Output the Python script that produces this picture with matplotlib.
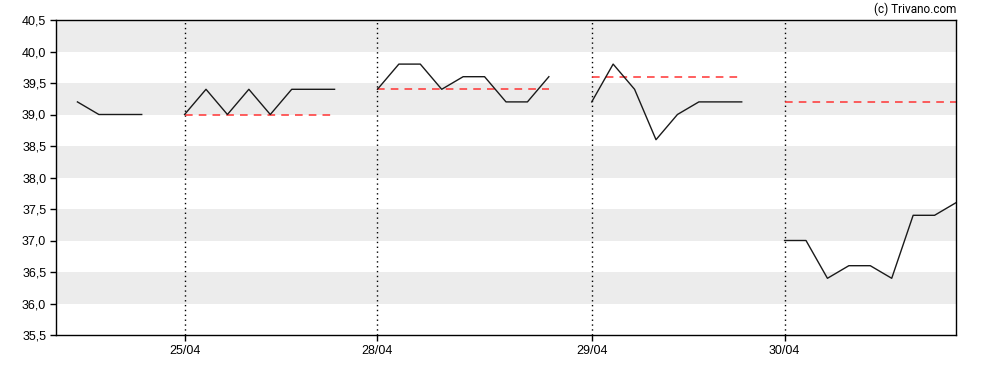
import numpy as np
import matplotlib.pyplot as plt

# intraday quotes per trading day (first day only partially visible)
day_labels = ['24/04', '25/04', '28/04', '29/04', '30/04']
day_start = [1, 6, 15, 25, 34]
day_values = [
    [39.2, 39.0, 39.0, 39.0],
    [39.0, 39.4, 39.0, 39.4, 39.0, 39.4, 39.4, 39.4],
    [39.4, 39.8, 39.8, 39.4, 39.6, 39.6, 39.2, 39.2, 39.6],
    [39.2, 39.8, 39.4, 38.6, 39.0, 39.2, 39.2, 39.2],
    [37.0, 37.0, 36.4, 36.6, 36.6, 36.4, 37.4, 37.4, 37.6],
]
# previous close shown as red dashed reference per day
prev_close = [None, 39.0, 39.4, 39.6, 39.2]

fig = plt.figure(figsize=(9.88, 3.70), dpi=100)
ax = fig.add_axes([56 / 988, 35 / 370, 900 / 988, 315 / 370])

ymin, ymax = 35.5, 40.5
for lo in np.arange(36.0, 40.5, 1.0):
    ax.axhspan(lo, lo + 0.5, color='#ececec', lw=0, zorder=0)

for i, vals in enumerate(day_values):
    xs = np.arange(day_start[i], day_start[i] + len(vals))
    ax.plot(xs, vals, color='#1a1a1a', lw=1.0, zorder=3)
    if prev_close[i] is not None:
        ax.plot([xs[0], xs[-1]], [prev_close[i]] * 2, color='#ff3333',
                lw=1.1, ls=(0, (5, 4)), zorder=2)
    if i > 0:
        ax.axvline(day_start[i], color='black', lw=1.0, ls=(0, (1, 2.5)), zorder=1)

ax.set_xlim(0, 42)
ax.set_ylim(ymin, ymax)
ax.set_yticks(np.arange(35.5, 40.51, 0.5))
ax.set_yticklabels([f'{v:.1f}'.replace('.', ',') for v in np.arange(35.5, 40.51, 0.5)])
ax.set_xticks(day_start[1:])
ax.set_xticklabels(day_labels[1:])
ax.tick_params(direction='out', length=4, width=1, labelsize=9, pad=3,
               colors='black')
for lab in ax.get_xticklabels() + ax.get_yticklabels():
    lab.set_family(['Liberation Sans', 'DejaVu Sans'])
for s in ax.spines.values():
    s.set_linewidth(1.0)
    s.set_color('black')

fig.text(956 / 988, 1 - 9 / 370, '(c) Trivano.com', ha='right', va='center',
         fontsize=8.5, family=['Roboto', 'DejaVu Sans'])

fig.savefig('out.png', dpi=100)
